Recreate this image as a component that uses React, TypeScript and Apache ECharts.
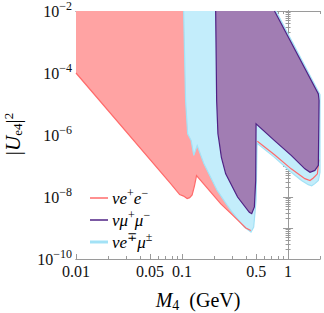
import React, { useEffect, useRef } from "react";
import * as echarts from "echarts";

// ---- axis tick values ----
const xLabelValues = [0.01, 0.05, 0.1, 0.5, 1];
const xMinorValues = [0.02, 0.03, 0.04, 0.06, 0.07, 0.08, 0.09, 0.2, 0.3, 0.4, 0.6, 0.7, 0.8, 0.9, 2];
const yLabelExponents = [-10, -8, -6, -4, -2];
const yDecadeExponents = [-10, -9, -8, -7, -6, -5, -4, -3, -2];
const yMinorFactors = [2, 3, 4, 5, 6, 7, 8, 9];

// ---- nu e+ e- region (M4 in GeV, |Ue4|^2) ----
const eeTopLeft: [number, number][] = [[0.01, 1e-2]];
const eeLowerEdge: [number, number][] = [
  [0.01, 1e-4], [0.0774, 2.8e-8], [0.095, 1.2e-8], [0.1035, 1.07e-8], [0.1117, 8.9e-9],
  [0.118, 9.5e-9], [0.1245, 1.17e-8], [0.131, 2.3e-8], [0.137, 4.9e-8], [0.232, 6.0e-9],
  [0.3, 2.6e-9], [0.4, 1.0e-9], [0.445, 8.3e-10],
];
const eeNotch: [number, number][] = [[0.47, 1.1e-9], [0.49, 3.2e-9], [0.495, 1e-7]];
const eeRightEdge: [number, number][] = [
  [0.513, 6.3e-7], [0.745, 2.3e-7], [1.07, 8.1e-8], [1.44, 3.9e-8], [1.61, 3.4e-8],
  [1.73, 4.1e-8], [1.89, 5.6e-8], [1.95, 1.6e-7],
];
const eeHiddenTop: [number, number][] = [[1.96, 2e-5], [0.76, 1e-2]];

// ---- nu e-/+ mu+/- region ----
const emuRegion: [number, number][] = [
  [0.1035, 1e-2], [0.108, 1.3e-5], [0.113, 1.1e-6], [0.122, 6.6e-7], [0.129, 2.2e-7],
  [0.139, 4.6e-7], [0.161, 1.17e-7], [0.215, 1.6e-8], [0.288, 3.7e-9], [0.386, 1.07e-9],
  [0.447, 7.4e-10], [0.474, 1.07e-9], [0.499, 7.9e-9], [0.51, 5.4e-7], [0.745, 1.9e-7],
  [1.07, 6.3e-8], [1.34, 3.4e-8], [1.55, 2.5e-8], [1.67, 2.3e-8], [1.79, 2.7e-8],
  [1.93, 3.4e-8], [2.0, 6.3e-8], [2.0, 2.0e-5], [0.77, 1e-2],
];

// ---- nu mu+ mu- region ----
const mumuRegion: [number, number][] = [
  [0.2075, 1e-2], [0.212, 1.3e-5], [0.218, 1.1e-6], [0.223, 6.6e-7], [0.235, 1.9e-7],
  [0.258, 5.6e-8], [0.334, 1e-8], [0.431, 3.2e-9], [0.454, 2.9e-9], [0.481, 4.8e-9],
  [0.495, 3.4e-8], [0.499, 2.3e-6], [0.745, 6.6e-7], [1.07, 2.2e-7], [1.44, 8.1e-8],
  [1.61, 6.3e-8], [1.79, 7.2e-8], [1.93, 1.05e-7], [1.96, 1.3e-5], [1.93, 2.1e-5],
  [0.745, 1e-2],
];

const RED_FILL = "#ffa3a3";
const RED_LINE = "#ff6b6b";
const BLUE_FILL = "#c3edfb";
const BLUE_LINE = "#a3e2f6";
const PURPLE_FILL = "#a17db3";
const PURPLE_LINE = "#4f2285";
const AXIS_COLOR = "#9a9a9a";
const TEXT_COLOR = "#111";
const SERIF = "'Liberation Serif', 'DejaVu Serif', serif";

const toLog = (pts: [number, number][]) => pts.map(([m, u]) => [Math.log10(m), Math.log10(u)]);

function shapeSeries(name: string, pts: [number, number][], kind: "polygon" | "polyline", style: any, z: number) {
  const data = toLog(pts);
  return {
    type: "custom",
    name,
    z,
    silent: true,
    data,
    renderItem: (params: any, api: any) => {
      if (params.dataIndex !== 0) return null;
      const points = data.map((d) => api.coord(d));
      return { type: kind, shape: { points }, style };
    },
  };
}

export default function App() {
  const ref = useRef<HTMLDivElement>(null);
  useEffect(() => {
    if (!ref.current) return;
    const chart = echarts.init(ref.current, null, { renderer: "svg" });
    const xMin = Math.log10(0.01);
    const xMax = Math.log10(2);
    const yMin = -10;
    const yMax = -2;
    const xMajor = xLabelValues.map((v) => Math.log10(v));
    const xMinor = xMinorValues.map((v) => Math.log10(v));
    const yMinor: number[] = [];
    yDecadeExponents.slice(0, -1).forEach((e) => yMinorFactors.forEach((k) => yMinor.push(e + Math.log10(k))));

    const baseX = {
      type: "value",
      min: xMin,
      max: xMax,
      splitLine: { show: false },
      axisLine: { show: true, lineStyle: { color: AXIS_COLOR, width: 1 } },
    };
    const baseY = {
      type: "value",
      min: yMin,
      max: yMax,
      splitLine: { show: false },
      axisLine: { show: true, lineStyle: { color: AXIS_COLOR, width: 1 } },
    };
    const tick = (vals: number[], len: number) => ({
      show: true,
      inside: true,
      length: len,
      customValues: vals,
      lineStyle: { color: AXIS_COLOR, width: 1 },
    });

    const richSup = {
      b: { fontFamily: SERIF, fontSize: 16, color: TEXT_COLOR, lineHeight: 22 },
      s: { fontFamily: SERIF, fontSize: 12, color: TEXT_COLOR, verticalAlign: "top", lineHeight: 12 },
    };
    const legRich = {
      i: { fontFamily: SERIF, fontStyle: "italic", fontSize: 17, color: TEXT_COLOR, lineHeight: 22 },
      p: { fontFamily: SERIF, fontSize: 12, color: TEXT_COLOR, verticalAlign: "top", lineHeight: 12 },
    };

    const legendItem = (y: number, color: string, width: number, text: string) => ({
      type: "group",
      children: [
        { type: "line", shape: { x1: 90, y1: y, x2: 108, y2: y }, style: { stroke: color, lineWidth: width } },
        { type: "text", x: 112, y: y, style: { text, rich: legRich, verticalAlign: "middle", align: "left" } },
      ],
    });

    const eeRegion = [...eeTopLeft, ...eeLowerEdge, ...eeNotch, ...eeRightEdge, ...eeHiddenTop];

    chart.setOption({
      animation: false,
      backgroundColor: "#fff",
      grid: { left: 76, top: 10, right: 4, bottom: 54, containLabel: false },
      xAxis: [
        {
          ...baseX,
          position: "bottom",
          axisTick: tick(xMajor, 5),
          axisLabel: {
            show: true,
            customValues: xMajor,
            margin: 4,
            fontFamily: SERIF,
            fontSize: 16,
            color: TEXT_COLOR,
            formatter: (v: number) => String(Number(Math.pow(10, v).toPrecision(2))),
          },
        },
        { ...baseX, position: "bottom", axisTick: tick(xMinor, 3), axisLabel: { show: false } },
        { ...baseX, position: "top", axisTick: tick(xMajor, 5), axisLabel: { show: false } },
        { ...baseX, position: "top", axisTick: tick(xMinor, 3), axisLabel: { show: false } },
      ],
      yAxis: [
        {
          ...baseY,
          position: "left",
          axisTick: tick(yDecadeExponents, 5),
          axisLabel: {
            show: true,
            customValues: yLabelExponents,
            margin: 4,
            rich: richSup,
            formatter: (v: number) => `{b|10}{s|−${Math.round(-v)}}`,
          },
        },
        { ...baseY, position: "left", axisTick: tick(yMinor, 2.5), axisLabel: { show: false } },
        { ...baseY, position: "right", axisTick: tick(yDecadeExponents, 5), axisLabel: { show: false } },
        { ...baseY, position: "right", axisTick: tick(yMinor, 2.5), axisLabel: { show: false } },
      ],
      series: [
        shapeSeries("νe+e− fill", eeRegion, "polygon", { fill: RED_FILL, stroke: "none" }, 1),
        shapeSeries("νe∓μ± fill", emuRegion, "polygon", { fill: BLUE_FILL, stroke: "none" }, 2),
        shapeSeries("νe∓μ± edge", emuRegion, "polyline", { fill: "none", stroke: BLUE_LINE, lineWidth: 1.2 }, 2),
        shapeSeries("νe+e− edge 1", eeLowerEdge, "polyline", { fill: "none", stroke: RED_LINE, lineWidth: 1.2 }, 3),
        shapeSeries("νe+e− edge 2", eeRightEdge, "polyline", { fill: "none", stroke: RED_LINE, lineWidth: 1.2 }, 3),
        shapeSeries("νμ+μ− fill", mumuRegion, "polygon", { fill: PURPLE_FILL, stroke: "none" }, 4),
        shapeSeries("νμ+μ− edge", mumuRegion, "polyline", { fill: "none", stroke: PURPLE_LINE, lineWidth: 1.2 }, 4),
      ],
      graphic: [
        legendItem(198, RED_LINE, 1.5, "{i|νe}{p|+}{i|e}{p|−}"),
        legendItem(220, PURPLE_LINE, 1.5, "{i|νμ}{p|+}{i|μ}{p|−}"),
        legendItem(242, BLUE_LINE, 3, "{i|νe}{p|∓}{i|μ}{p|±}"),
        {
          type: "text",
          x: 198,
          y: 300,
          style: {
            text: "{i|M}{sub|4}{n|  (GeV)}",
            align: "center",
            verticalAlign: "middle",
            rich: {
              i: { fontFamily: SERIF, fontStyle: "italic", fontSize: 20, color: TEXT_COLOR, lineHeight: 24 },
              sub: { fontFamily: SERIF, fontSize: 14, color: TEXT_COLOR, verticalAlign: "bottom", lineHeight: 14 },
              n: { fontFamily: SERIF, fontSize: 20, color: TEXT_COLOR, lineHeight: 24 },
            },
          },
        },
        {
          type: "text",
          x: 13,
          y: 134,
          rotation: Math.PI / 2,
          style: {
            text: "{n||}{i|U}{sub|e4}{n||}{sup|2}",
            align: "center",
            verticalAlign: "middle",
            rich: {
              i: { fontFamily: SERIF, fontStyle: "italic", fontSize: 21, color: TEXT_COLOR, lineHeight: 22 },
              n: { fontFamily: SERIF, fontSize: 21, color: TEXT_COLOR, lineHeight: 22 },
              sub: { fontFamily: SERIF, fontSize: 13, color: TEXT_COLOR, verticalAlign: "bottom", lineHeight: 13 },
              sup: { fontFamily: SERIF, fontSize: 13, color: TEXT_COLOR, verticalAlign: "top", lineHeight: 13 },
            },
          },
        },
      ],
    });
    return () => chart.dispose();
  }, []);
  return (
    <div
      ref={ref}
      style={{ position: "fixed", left: 0, top: 0, width: 324, height: 313, background: "#fff" }}
    />
  );
}
